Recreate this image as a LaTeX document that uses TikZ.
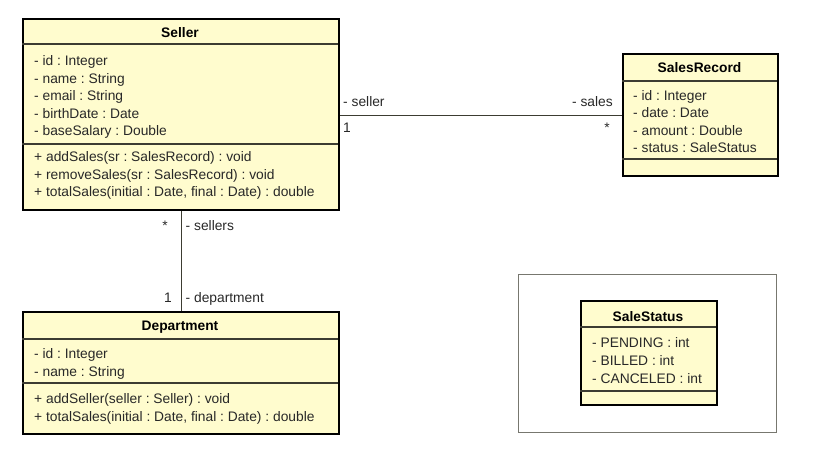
\documentclass[tikz,border=0pt]{standalone}
\usepackage{fontspec}
\setmainfont{Liberation Sans}
\frenchspacing
\definecolor{umlfill}{RGB}{255,252,206}
\definecolor{umlline}{RGB}{60,60,50}
\definecolor{umltext}{RGB}{40,40,40}

\begin{document}
\begin{tikzpicture}[x=1pt,y=-1pt,
  classbox/.style={draw=black,line width=2.4pt,fill=umlfill,anchor=north west,inner sep=0},
  divider/.style={umlline,line width=1.2pt},
  member/.style={anchor=base west,inner sep=0,text=umltext,font=\fontsize{13.8}{16}\selectfont},
  classname/.style={anchor=base,inner sep=0,text=black,font=\fontsize{13.8}{16}\selectfont\bfseries},
  assoc/.style={umlline,line width=1.2pt},
  mult/.style={anchor=base,inner sep=0,text=umltext,font=\fontsize{13.8}{16}\selectfont}]
\useasboundingbox (0,0) rectangle (815,449);

% class boxes
\node[classbox,minimum width=316,minimum height=191] (seller) at (22,18) {};
\node[classbox,minimum width=155,minimum height=122] (sales) at (622,53) {};
\node[classbox,minimum width=316,minimum height=122] (dept) at (22,311) {};
\draw[umlline!70,line width=0.8pt] (518,274) rectangle (776,432);
\node[classbox,minimum width=136,minimum height=104] (status) at (580,300) {};

% compartments
\draw[divider] (seller.north west) ++(0,26) -- ++(316,0);
\draw[divider] (seller.north west) ++(0,126) -- ++(316,0);
\draw[divider] (sales.north west) ++(0,28) -- ++(155,0);
\draw[divider] (sales.north west) ++(0,106) -- ++(155,0);
\draw[divider] (dept.north west) ++(0,28) -- ++(316,0);
\draw[divider] (dept.north west) ++(0,72) -- ++(316,0);
\draw[divider] (status.north west) ++(0,27) -- ++(136,0);
\draw[divider] (status.north west) ++(0,91) -- ++(136,0);

% Seller
\node[classname] (sellerT) at (180,38) {Seller};
\node[member] (sellerA1) at (34,66) {- id : Integer};
\node[member] (sellerA2) at (34,83.5) {- name : String};
\node[member] (sellerA3) at (34,101) {- email : String};
\node[member] (sellerA4) at (34,118.5) {- birthDate : Date};
\node[member] (sellerA5) at (34,136) {- baseSalary : Double};
\node[member] (sellerM1) at (34,162) {+ addSales(sr : SalesRecord) : void};
\node[member] (sellerM2) at (34,179.5) {+ removeSales(sr : SalesRecord) : void};
\node[member] (sellerM3) at (34,197) {+ totalSales(initial : Date, final : Date) : double};

% SalesRecord
\node[classname] (salesT) at (699.5,73) {SalesRecord};
\node[member] (salesA1) at (633,100.5) {- id : Integer};
\node[member] (salesA2) at (633,118) {- date : Date};
\node[member] (salesA3) at (633,135.5) {- amount : Double};
\node[member] (salesA4) at (633,153) {- status : SaleStatus};

% Department
\node[classname] (deptT) at (180,331) {Department};
\node[member] (deptA1) at (34,359) {- id : Integer};
\node[member] (deptA2) at (34,376.5) {- name : String};
\node[member] (deptM1) at (34,404) {+ addSeller(seller : Seller) : void};
\node[member] (deptM2) at (34,421) {+ totalSales(initial : Date, final : Date) : double};

% SaleStatus
\node[classname] (statusT) at (648,321.5) {SaleStatus};
\node[member] (statusA1) at (592,348) {- PENDING : int};
\node[member] (statusA2) at (592,366) {- BILLED : int};
\node[member] (statusA3) at (592,384) {- CANCELED : int};

% associations
\draw[assoc] (sales.west) -- (sales.west -| seller.east);
\draw[assoc] (seller.south) -- (dept.north);
\node[member] (roleSeller) at (343,106.5) {- seller};
\node[member,anchor=base east] (roleSales) at (613,106.5) {- sales};
\node[mult] (multSeller) at (347,133) {1};
\node[mult] (multSales) at (607,133) {*};
\node[mult] (multSellers) at (165,231) {*};
\node[member] (roleSellers) at (185.5,231) {- sellers};
\node[mult] (multDept) at (168,303) {1};
\node[member] (roleDept) at (185.5,303) {- department};
\end{tikzpicture}
\end{document}
